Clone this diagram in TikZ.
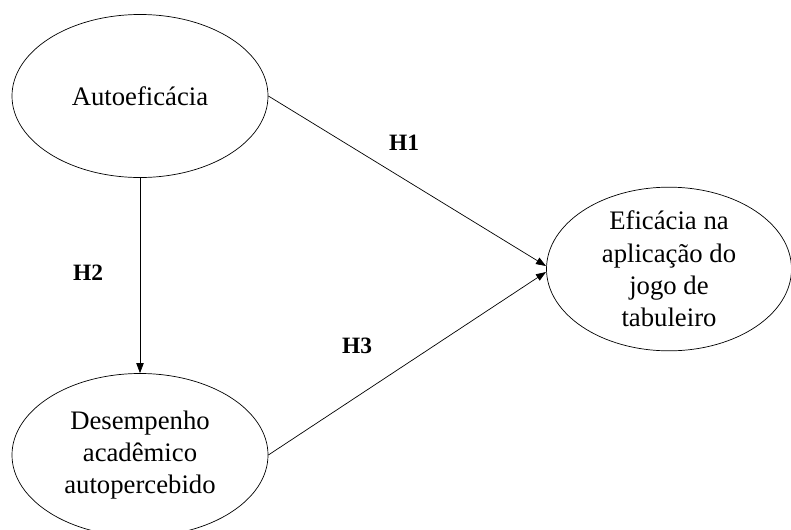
\documentclass[tikz,border=0pt]{standalone}
\usepackage{fontspec}
\setmainfont{Liberation Serif}
\usetikzlibrary{shapes.geometric,arrows.meta}

\begin{document}
\begin{tikzpicture}[x=0.03cm, y=-0.03cm,
    construct/.style={draw, ellipse, line width=0.6pt, align=center,
      inner sep=0pt, font=\fontsize{22.8}{27.5}\selectfont},
    hyp/.style={font=\fontsize{20}{24}\selectfont\bfseries},
    path/.style={line width=0.6pt, -{Triangle[length=3mm,width=2.2mm]}}]
  \useasboundingbox (0,0) rectangle (791,529);

  % constructs
  \node[construct, minimum width=7.68cm, minimum height=4.89cm] (auto) at (140,96) {Autoeficácia};
  \node[construct, minimum width=7.68cm, minimum height=4.89cm] (desemp) at (140,455)
    {Desempenho\\acadêmico\\autopercebido};
  \node[construct, minimum width=7.35cm, minimum height=4.86cm] (efic) at (669,269)
    {Eficácia na\\aplicação do\\jogo de\\tabuleiro};

  % arrow ends on the target
  \coordinate (end1) at (546,266);
  \coordinate (end3) at (546,272);

  % hypotheses
  \draw[path] (auto.east) -- (end1);
  \draw[path] (auto.south) -- (desemp.north);
  \draw[path] (desemp.east) -- (end3);

  \node[hyp] (h1) at (404,143) {H1};
  \node[hyp] (h2) at (88,273) {H2};
  \node[hyp] (h3) at (357,346) {H3};

\end{tikzpicture}
\end{document}
